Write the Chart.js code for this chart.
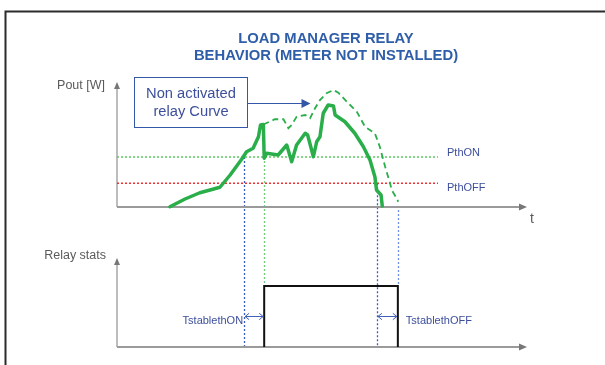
<!DOCTYPE html>
<html>
<head>
<meta charset="utf-8">
<script src="https://cdn.jsdelivr.net/npm/chart.js@4.4.1/dist/chart.umd.min.js"></script>
<style>
  html, body { margin: 0; padding: 0; background: #ffffff; }
  #wrap { position: relative; width: 605px; height: 365px; }
</style>
</head>
<body>
<div id="wrap"><canvas id="relayChart" width="605" height="365"></canvas></div>
<script>
// Output power of the inverter (time in s, power in W)
const tSolid = [12.9, 16.6, 20.2, 22.7, 25.1, 27.6, 30.4, 31.6, 33.2, 34.5, 35.0, 35.7, 35.9, 36.5, 39.3,
                41.4, 42.6, 43.8, 45.9, 46.5, 47.9, 48.7, 49.5, 50.3, 51.5, 52.8, 53.2, 55.6, 58.0, 60.1,
                61.7, 62.9, 63.3, 64.4, 64.7];
const pSolid = [2, 64, 114, 136, 158, 256, 382, 442, 470, 562, 656, 660, 390, 430, 416,
                496, 362, 496, 590, 576, 402, 522, 562, 750, 816, 808, 736, 682, 590, 482,
                376, 242, 136, 96, 8];

// Power the curve would follow if the relay were not activated
const tDash = [35.7, 38.5, 40.6, 41.8, 42.6, 43.8, 45.9, 47.1, 48.3, 49.5, 51.1, 52.8, 54.0, 56.4, 58.5,
               60.5, 62.9, 64.1, 65.4, 66.6, 67.0, 68.2, 68.6];
const pDash = [660, 702, 702, 630, 656, 722, 736, 710, 790, 856, 910, 936, 914, 830, 762,
               642, 590, 482, 322, 190, 136, 70, 42];

// Thresholds (W)
const PthON = 400;
const PthOFF = 190;
const thresholdEnd = 78.3;

// Switching instants (s)
const tOnCross = 31.0;   // power goes above PthON
const tOn = 35.9;        // relay closes after TstablethON
const tOffCross = 63.4;  // power falls below PthOFF
const tOff = 68.5;       // relay opens after TstablethOFF

// Relay state
const tRelay = [tOn, tOn, tOff, tOff];
const relayState = [0, 1, 1, 0];

// Axis extents
const tAxisEnd = 100;
const pAxisTop = 1000;
const relayAxisTop = 1.46;

const BLUE = '#3358a8';
const TEXT_BLUE = '#3d4f9c';
const GREEN = '#2aae4a';
const FONT = "'Liberation Sans', Arial, sans-serif";

const toXY = (xs, ys) => xs.map((x, i) => ({ x: x, y: ys[i] }));

function arrowHead(ctx, x, y, dir, len, half) {
  ctx.beginPath();
  if (dir === 'right') {
    ctx.moveTo(x, y); ctx.lineTo(x - len, y - half); ctx.lineTo(x - len, y + half);
  } else {
    ctx.moveTo(x, y); ctx.lineTo(x - half, y + len); ctx.lineTo(x + half, y + len);
  }
  ctx.closePath();
  ctx.fill();
}

function chevrons(ctx, x1, x2, y, s) {
  ctx.beginPath();
  ctx.moveTo(x1, y); ctx.lineTo(x2, y);
  ctx.moveTo(x1 + s, y - s * 0.8); ctx.lineTo(x1, y); ctx.lineTo(x1 + s, y + s * 0.8);
  ctx.moveTo(x2 - s, y - s * 0.8); ctx.lineTo(x2, y); ctx.lineTo(x2 - s, y + s * 0.8);
  ctx.stroke();
}

const diagram = {
  id: 'diagram',
  beforeDraw(chart) {
    const ctx = chart.ctx;
    ctx.save();
    ctx.fillStyle = '#ffffff';
    ctx.fillRect(0, 0, chart.width, chart.height);
    // outer frame
    ctx.strokeStyle = '#2b2b2b';
    ctx.lineWidth = 2;
    ctx.beginPath();
    ctx.moveTo(5.5, chart.height + 2);
    ctx.lineTo(5.5, 11.5);
    ctx.lineTo(chart.width + 2, 11.5);
    ctx.stroke();
    ctx.restore();
  },
  beforeDatasetsDraw(chart) {
    const { ctx, scales: { x, y, yR } } = chart;
    const x0 = x.getPixelForValue(0);
    const xEnd = x.getPixelForValue(tAxisEnd);
    const pBase = y.getPixelForValue(0);
    const pTop = y.getPixelForValue(pAxisTop);
    const rBase = yR.getPixelForValue(0);
    const rTop = yR.getPixelForValue(relayAxisTop);
    const rHigh = yR.getPixelForValue(1);
    ctx.save();

    // vertical markers
    ctx.lineWidth = 1.3;
    ctx.setLineDash([2, 2]);
    const vline = (t, yA, yB, color) => {
      const px = Math.round(x.getPixelForValue(t)) + 0.5;
      ctx.strokeStyle = color;
      ctx.beginPath(); ctx.moveTo(px, yA); ctx.lineTo(px, yB); ctx.stroke();
    };
    vline(tOnCross, y.getPixelForValue(PthON), rBase, '#3a5cc0');
    vline(tOn, y.getPixelForValue(PthON), rHigh, '#70cc80');
    vline(tOffCross, y.getPixelForValue(PthOFF), rBase, '#3a5cc0');
    vline(tOff, pBase + 3, rHigh, '#6f92e0');
    ctx.setLineDash([]);

    // axes
    ctx.strokeStyle = '#9a9a9a';
    ctx.fillStyle = '#777777';
    ctx.lineWidth = 2;
    ctx.beginPath();
    ctx.moveTo(x0, pBase); ctx.lineTo(xEnd - 6, pBase);
    ctx.moveTo(x0, rBase); ctx.lineTo(xEnd - 6, rBase);
    ctx.stroke();
    ctx.lineWidth = 1.3;
    ctx.beginPath();
    ctx.moveTo(x0, pBase); ctx.lineTo(x0, pTop + 5);
    ctx.moveTo(x0, rBase); ctx.lineTo(x0, rTop + 5);
    ctx.stroke();
    arrowHead(ctx, xEnd, pBase, 'right', 8, 3.5);
    arrowHead(ctx, xEnd, rBase, 'right', 8, 3.5);
    arrowHead(ctx, x0, pTop, 'up', 7, 3);
    arrowHead(ctx, x0, rTop, 'up', 7, 3);
    ctx.restore();
  },
  afterDatasetsDraw(chart) {
    const { ctx, scales: { x, y, yR } } = chart;
    const x0 = x.getPixelForValue(0);
    const xEnd = x.getPixelForValue(tAxisEnd);
    const pBase = y.getPixelForValue(0);
    const pTop = y.getPixelForValue(pAxisTop);
    const rTop = yR.getPixelForValue(relayAxisTop);
    const labelX = x.getPixelForValue(thresholdEnd) + 9;
    ctx.save();
    ctx.textBaseline = 'middle';

    // axis names
    ctx.fillStyle = '#5a5a5a';
    ctx.font = '12.5px ' + FONT;
    ctx.textAlign = 'right';
    ctx.fillText('Pout [W]', x0 - 12, pTop + 4);
    ctx.fillText('Relay stats', x0 - 11, rTop - 2);
    ctx.textAlign = 'left';
    ctx.font = '14px ' + FONT;
    ctx.fillText('t', xEnd + 3, pBase + 12);

    // threshold names
    ctx.fillStyle = TEXT_BLUE;
    ctx.font = '11px ' + FONT;
    ctx.fillText('PthON', labelX, y.getPixelForValue(PthON) - 4.5);
    ctx.fillText('PthOFF', labelX, y.getPixelForValue(PthOFF) + 5);

    // stabilisation delays
    const yArrow = yR.getPixelForValue(0.5);
    ctx.strokeStyle = '#3f62b8';
    ctx.lineWidth = 1;
    chevrons(ctx, x.getPixelForValue(tOnCross) + 1, x.getPixelForValue(tOn) - 1, yArrow, 4);
    chevrons(ctx, x.getPixelForValue(tOffCross) + 1, x.getPixelForValue(tOff) - 1, yArrow, 4);
    ctx.textAlign = 'right';
    ctx.fillText('TstablethON', x.getPixelForValue(tOnCross) - 1, yArrow + 4);
    ctx.textAlign = 'left';
    ctx.fillText('TstablethOFF', x.getPixelForValue(tOff) + 8, yArrow + 4);

    // callout for the non activated relay curve
    const bx = x0 + 17.5, by = pTop - 4.5, bw = 113, bh = 50;
    ctx.fillStyle = '#ffffff';
    ctx.fillRect(bx, by, bw, bh);
    ctx.strokeStyle = BLUE;
    ctx.lineWidth = 1;
    ctx.strokeRect(bx, by, bw, bh);
    ctx.fillStyle = TEXT_BLUE;
    ctx.font = '14.7px ' + FONT;
    ctx.textAlign = 'center';
    ctx.fillText('Non activated', bx + bw / 2, by + 16);
    ctx.fillText('relay Curve', bx + bw / 2, by + 34.5);
    const ay = by + 26;
    ctx.strokeStyle = BLUE;
    ctx.lineWidth = 1.2;
    ctx.beginPath(); ctx.moveTo(bx + bw, ay); ctx.lineTo(bx + bw + 55, ay); ctx.stroke();
    ctx.fillStyle = BLUE;
    arrowHead(ctx, bx + bw + 63, ay, 'right', 9, 4.5);
    ctx.restore();
  }
};

new Chart(document.getElementById('relayChart'), {
  type: 'line',
  data: {
    datasets: [
      {
        label: 'Pout',
        data: toXY(tSolid, pSolid),
        yAxisID: 'y',
        borderColor: GREEN,
        borderWidth: 3.5,
        borderJoinStyle: 'round',
        borderCapStyle: 'round',
        tension: 0,
        pointRadius: 0
      },
      {
        label: 'Non activated relay curve',
        data: toXY(tDash, pDash),
        yAxisID: 'y',
        borderColor: GREEN,
        borderWidth: 1.8,
        borderDash: [6, 4],
        tension: 0,
        pointRadius: 0
      },
      {
        label: 'PthON',
        data: [{ x: 0, y: PthON }, { x: thresholdEnd, y: PthON }],
        yAxisID: 'y',
        borderColor: '#5cc860',
        borderWidth: 1.6,
        borderDash: [2, 2],
        pointRadius: 0
      },
      {
        label: 'PthOFF',
        data: [{ x: 0, y: PthOFF }, { x: thresholdEnd, y: PthOFF }],
        yAxisID: 'y',
        borderColor: '#f03030',
        borderWidth: 1.6,
        borderDash: [2, 2],
        pointRadius: 0
      },
      {
        label: 'Relay',
        data: toXY(tRelay, relayState),
        yAxisID: 'yR',
        borderColor: '#111111',
        borderWidth: 2,
        borderJoinStyle: 'miter',
        tension: 0,
        pointRadius: 0
      }
    ]
  },
  options: {
    responsive: false,
    animation: false,
    events: [],
    layout: { padding: { left: 52, right: 5, top: 0, bottom: 10 } },
    scales: {
      x: { type: 'linear', display: false, min: -15.854, max: 117.805 },
      y: { type: 'linear', display: false, min: -1184, max: 1000 },
      yR: { type: 'linear', display: false, min: -0.1311, max: 4.3443 }
    },
    plugins: {
      legend: { display: false },
      tooltip: { enabled: false },
      title: {
        display: true,
        text: ['LOAD MANAGER RELAY', 'BEHAVIOR (METER NOT INSTALLED)'],
        color: '#2f5ea9',
        font: { family: FONT, size: 14.8, weight: 'bold', lineHeight: '17.5px' },
        padding: { top: 30, bottom: 17 }
      }
    }
  },
  plugins: [diagram]
});
</script>
</body>
</html>
